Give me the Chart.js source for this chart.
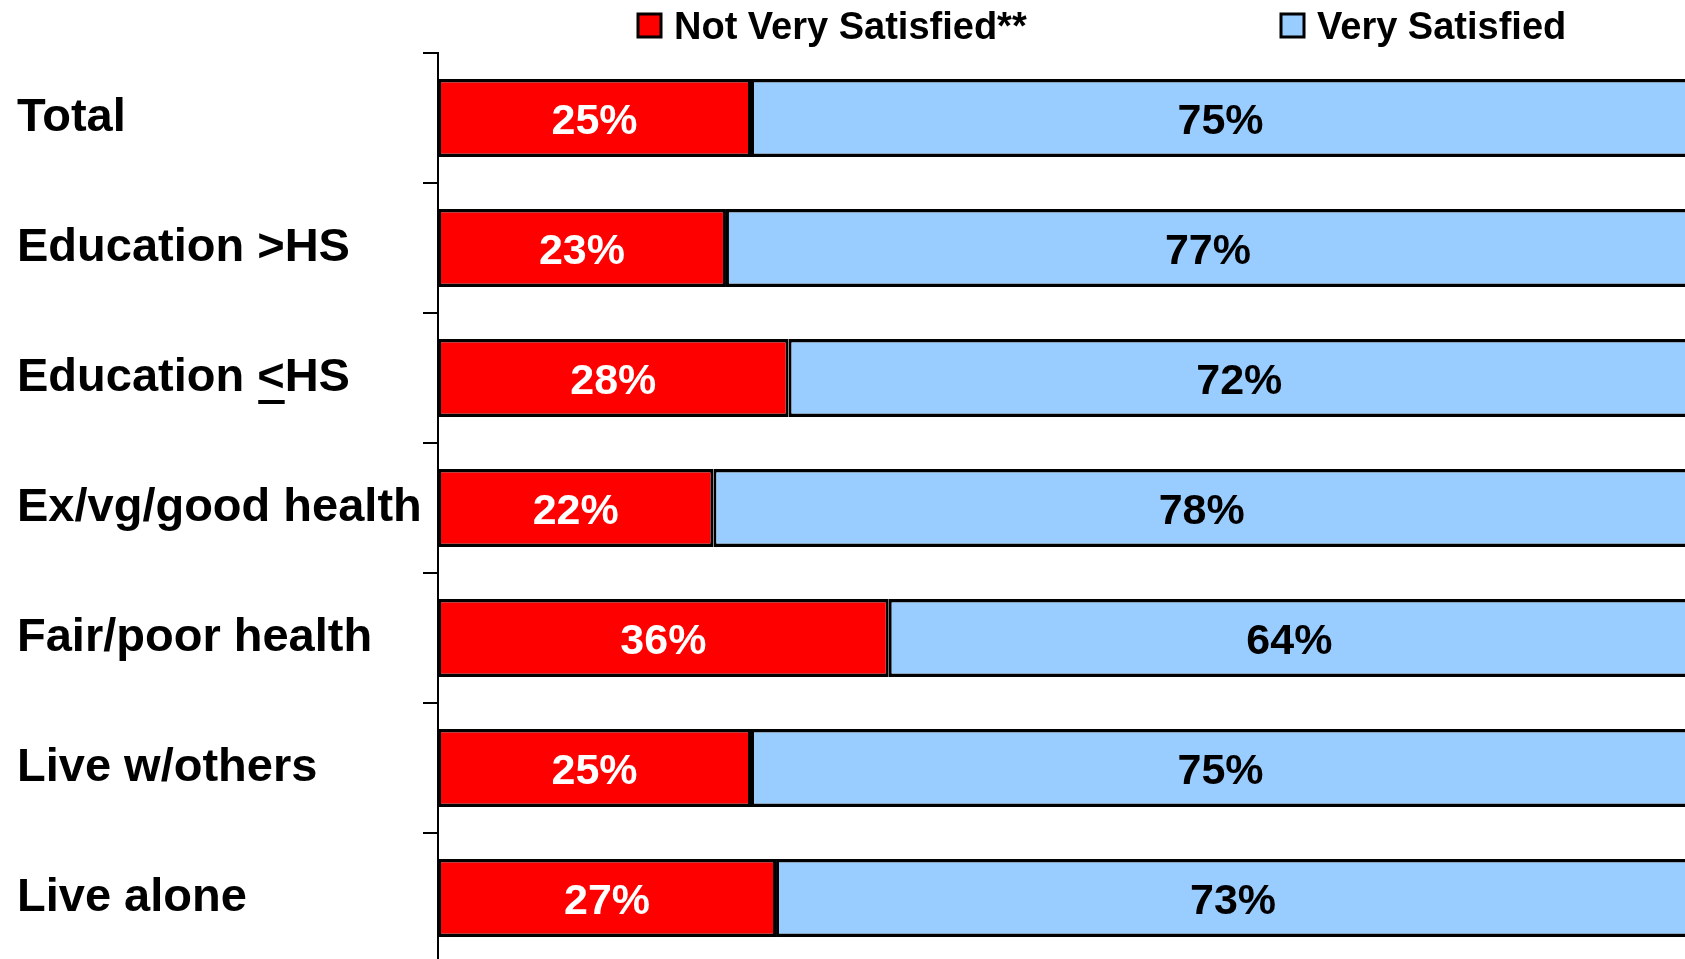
<!DOCTYPE html>
<html>
<head>
<meta charset="utf-8">
<script src="https://cdn.jsdelivr.net/npm/chart.js@4/dist/chart.umd.min.js"></script>
<style>
  html, body { margin: 0; padding: 0; background: #fff; }
  #wrap { width: 1685px; height: 959px; overflow: hidden; position: relative; }
  #chart { display: block; }
</style>
</head>
<body>
<div id="wrap"><canvas id="chart" width="1700" height="963"></canvas></div>
<script>
const groups = ['Total', 'Education >HS', 'Education <HS', 'Ex/vg/good health', 'Fair/poor health', 'Live w/others', 'Live alone'];
const notVerySatisfied = [25, 23, 28, 22, 36, 25, 27];
const verySatisfied = [75, 77, 72, 78, 64, 75, 73];
const seriesNames = ['Not Very Satisfied**', 'Very Satisfied'];

const FONT = '"Liberation Sans", Arial, Helvetica, sans-serif';
const RED = '#ff0000';
const BLUE = '#99ccff';

// Value labels centred in each segment
const segmentLabels = {
  id: 'segmentLabels',
  afterDatasetsDraw(chart) {
    const { ctx } = chart;
    ctx.save();
    ctx.font = 'bold 43px ' + FONT;
    ctx.textAlign = 'center';
    ctx.textBaseline = 'middle';
    chart.data.datasets.forEach((ds, di) => {
      const meta = chart.getDatasetMeta(di);
      ctx.fillStyle = di === 0 ? '#ffffff' : '#000000';
      meta.data.forEach((bar, i) => {
        const cx = (bar.x + bar.base) / 2;
        ctx.fillText(ds.data[i] + '%', cx, bar.y + 4);
      });
    });
    ctx.restore();
  },
};

// Legend spread across the top, like the original slide
const topLegend = {
  id: 'topLegend',
  afterDraw(chart) {
    const { ctx } = chart;
    const itemX = [638, 1281];
    ctx.save();
    ctx.font = 'bold 38px ' + FONT;
    ctx.textBaseline = 'middle';
    ctx.textAlign = 'left';
    chart.data.datasets.forEach((ds, i) => {
      const x = itemX[i];
      ctx.fillStyle = ds.backgroundColor;
      ctx.fillRect(x, 14, 23, 23);
      ctx.lineWidth = 3;
      ctx.strokeStyle = '#000';
      ctx.strokeRect(x, 14, 23, 23);
      ctx.fillStyle = '#000';
      ctx.fillText(ds.label, x + 36, 29);
    });
    ctx.restore();
  },
};

// "<" in "Education <HS" is underlined (less-or-equal)
const underlineLe = {
  id: 'underlineLe',
  afterDraw(chart) {
    const yScale = chart.scales.y;
    const idx = groups.indexOf('Education <HS');
    const { ctx } = chart;
    ctx.save();
    ctx.font = 'bold 47px ' + FONT;
    const x0 = yScale.left + ctx.measureText('Education ').width;
    const w = ctx.measureText('<').width;
    const y = yScale.getPixelForTick(idx) + 24;
    ctx.fillStyle = '#000';
    ctx.fillRect(x0 + 1, y - 2, w - 1, 4);
    ctx.restore();
  },
};

const barBorder = { top: 3.5, bottom: 3.5, left: 3, right: 3 };

new Chart(document.getElementById('chart'), {
  type: 'bar',
  data: {
    labels: groups,
    datasets: [
      {
        label: seriesNames[0],
        data: notVerySatisfied,
        backgroundColor: RED,
        borderColor: '#000',
        borderWidth: barBorder,
        borderSkipped: false,
        barPercentage: 0.6,
        categoryPercentage: 1,
      },
      {
        label: seriesNames[1],
        data: verySatisfied,
        backgroundColor: BLUE,
        borderColor: '#000',
        borderWidth: barBorder,
        borderSkipped: false,
        barPercentage: 0.6,
        categoryPercentage: 1,
      },
    ],
  },
  options: {
    indexAxis: 'y',
    responsive: false,
    animation: false,
    events: [],
    layout: { padding: { left: 17, top: 53, right: 10, bottom: 0 } },
    plugins: {
      legend: { display: false },
      tooltip: { enabled: false },
    },
    scales: {
      x: {
        stacked: true,
        min: 0,
        max: 100,
        display: false,
      },
      y: {
        stacked: true,
        afterFit(scale) {
          scale.width = 421;
          scale.paddingTop = 0;
          scale.paddingBottom = 0;
        },
        grid: {
          display: true,
          offset: true,
          drawOnChartArea: false,
          drawTicks: true,
          tickLength: 15,
          color: '#000',
          lineWidth: 2,
        },
        border: { display: true, color: '#000', width: 2 },
        ticks: {
          autoSkip: false,
          crossAlign: 'far',
          color: '#000',
          font: { family: FONT, size: 47, weight: 'bold' },
        },
      },
    },
  },
  plugins: [segmentLabels, topLegend, underlineLe],
});
</script>
</body>
</html>
